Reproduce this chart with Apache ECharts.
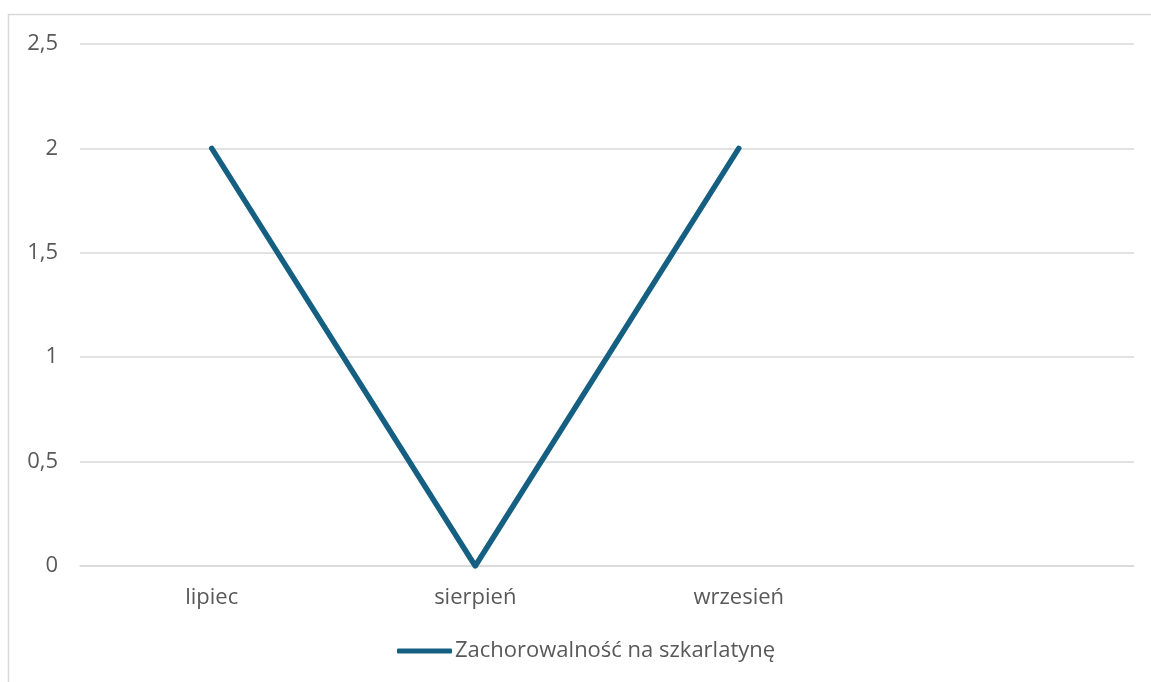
<!DOCTYPE html>
<html>
<head>
<meta charset="utf-8">
<script src="https://cdn.jsdelivr.net/npm/echarts@6/dist/echarts.min.js"></script>
<style>
html,body{margin:0;padding:0;background:#fff;}
#c{width:1151px;height:682px;}
</style>
</head>
<body>
<div id="c"></div>
<script>
var categories = ['lipiec', 'sierpień', 'wrzesień', ''];
var seriesName = 'Zachorowalność na szkarlatynę';
var values = [2, 0, 2, null];
var yTicks = [0, 0.5, 1, 1.5, 2, 2.5];

var chart = echarts.init(document.getElementById('c'), null, {renderer: 'canvas'});
var font = '"Open Sans", "Noto Sans", sans-serif';
var fs = 22;
chart.setOption({
  animation: false,
  backgroundColor: '#fff',
  graphic: [{
    type: 'rect',
    shape: {x: 8.5, y: 14.5, width: 1300, height: 800},
    style: {fill: 'none', stroke: '#d9d9d9', lineWidth: 1.5},
    silent: true
  }],
  grid: {left: 80, right: 17, top: 44, bottom: 116, containLabel: false},
  legend: {
    data: [seriesName],
    left: 397,
    top: 640,
    padding: 0,
    icon: 'roundRect',
    itemWidth: 55,
    itemHeight: 5,
    itemStyle: {color: '#156082'},
    textStyle: {color: '#595959', fontSize: fs, fontFamily: font, padding: [0, 0, 0, -2]}
  },
  xAxis: {
    type: 'category',
    data: categories,
    boundaryGap: true,
    axisLine: {show: true, lineStyle: {color: '#d9d9d9', width: 1.5}},
    axisTick: {show: false},
    axisLabel: {color: '#595959', fontSize: fs, fontFamily: font, margin: 21}
  },
  yAxis: {
    type: 'value',
    min: yTicks[0],
    max: yTicks[yTicks.length - 1],
    interval: 0.5,
    axisLine: {show: false},
    axisTick: {show: false},
    splitLine: {lineStyle: {color: '#d9d9d9', width: 1.5}},
    axisLabel: {
      color: '#595959', fontSize: fs, fontFamily: font, margin: 22,
      formatter: function (v) {
        return String(v).replace('.', ',');
      }
    }
  },
  series: [{
    name: seriesName,
    type: 'line',
    data: values,
    symbol: 'none',
    itemStyle: {color: '#156082'},
    lineStyle: {color: '#156082', width: 5.5, cap: 'round', join: 'round'}
  }]
});
</script>
</body>
</html>
